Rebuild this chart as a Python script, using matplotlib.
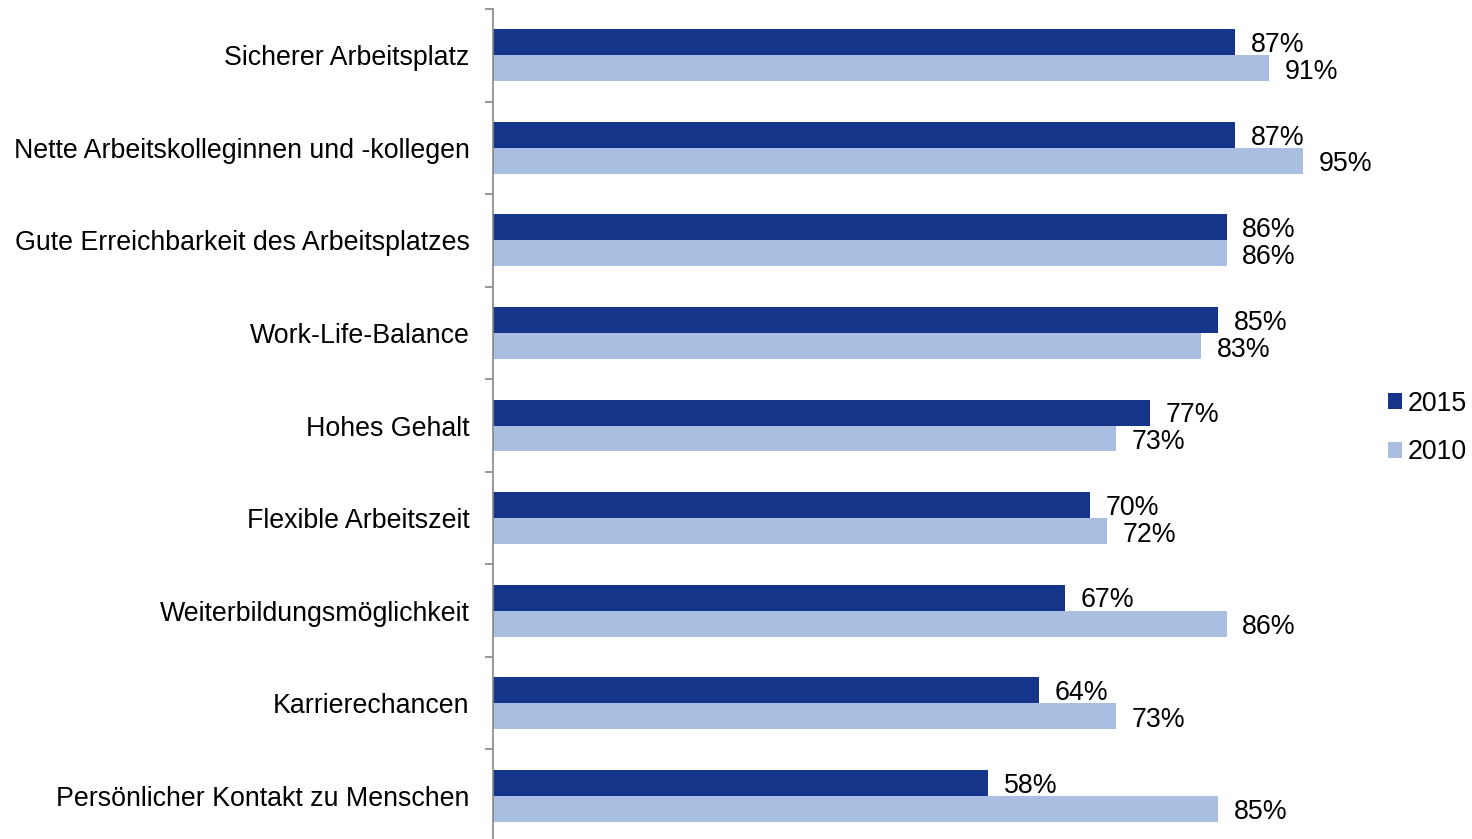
import matplotlib
matplotlib.use("Agg")
import matplotlib.pyplot as plt
import numpy as np

plt.rcParams['font.family'] = ['Liberation Sans', 'DejaVu Sans']

categories = ["Sicherer Arbeitsplatz", "Nette Arbeitskolleginnen und -kollegen",
              "Gute Erreichbarkeit des Arbeitsplatzes", "Work-Life-Balance",
              "Hohes Gehalt", "Flexible Arbeitszeit", "Weiterbildungsmöglichkeit",
              "Karrierechancen", "Persönlicher Kontakt zu Menschen"]
values_2015 = [87, 87, 86, 85, 77, 70, 67, 64, 58]
values_2010 = [91, 95, 86, 83, 73, 72, 86, 73, 85]
series_names = ["2015", "2010"]
colors = ["#14358A", "#A9BEE0"]

FS = 19.3
W, H = 1472, 839
fig = plt.figure(figsize=(W/100, H/100), dpi=100)
top, height = 9, 833
ax = fig.add_axes([493/W, (H - top - height)/H, 853/W, height/H])

n = len(categories)
pos = np.arange(n)
bh = 0.28
ax.barh(pos - bh/2, values_2015, height=bh, color=colors[0], label=series_names[0])
ax.barh(pos + bh/2, values_2010, height=bh, color=colors[1], label=series_names[1])

for i in range(n):
    ax.text(values_2015[i] + 1.85, pos[i] - bh/2 + 0.03, f"{values_2015[i]}%", va='center', ha='left', fontsize=FS)
    ax.text(values_2010[i] + 1.85, pos[i] + bh/2 + 0.04, f"{values_2010[i]}%", va='center', ha='left', fontsize=FS)

ax.set_xlim(0, 100)
ax.set_ylim(n - 0.5, -0.5)
ax.set_yticks(pos)
ax.set_yticklabels(categories, fontsize=FS)
ax.set_yticks(np.arange(n + 1) - 0.5, minor=True)
ax.tick_params(axis='y', which='major', length=0, pad=17)
ax.tick_params(axis='y', which='minor', length=5.5, width=1.2, color='#888888', direction='out')
ax.set_xticks([])
for s in ['top', 'right', 'bottom']:
    ax.spines[s].set_visible(False)
ax.spines['left'].set_color('#888888')
ax.spines['left'].set_linewidth(1.2)

ax.legend(loc='center left', bbox_to_anchor=(1388/W, 1 - 428/H), bbox_transform=fig.transFigure,
          frameon=False, borderpad=0, borderaxespad=0,
          fontsize=FS, handlelength=0.52, handleheight=0.52, handletextpad=0.2, labelspacing=0.85)

fig.savefig("out.png", dpi=100)
